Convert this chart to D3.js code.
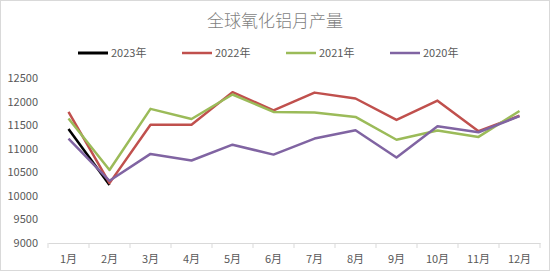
<!DOCTYPE html>
<html>
<head>
  <meta charset="utf-8">
  <script src="https://d3js.org/d3.v7.min.js"></script>
  <style>
    body { margin: 0; background: #fff; }
    text { font-family: "Noto Sans CJK SC", "Liberation Sans", sans-serif; }
  </style>
</head>
<body>
  <div id="chart"></div>
  <script>
    var months = ["1月","2月","3月","4月","5月","6月","7月","8月","9月","10月","11月","12月"];
    var yTicks = [9000, 9500, 10000, 10500, 11000, 11500, 12000, 12500];
    var v2023 = [11420, 10230];
    var v2022 = [11780, 10270, 11510, 11510, 12200, 11815, 12190, 12065, 11610, 12020, 11370, 11700];
    var v2021 = [11640, 10550, 11845, 11630, 12150, 11780, 11770, 11675, 11190, 11385, 11250, 11800];
    var v2020 = [11215, 10320, 10890, 10750, 11085, 10875, 11215, 11390, 10815, 11475, 11350, 11690];

    var series = [
      { name: "2023年", values: v2023, color: "#000000" },
      { name: "2022年", values: v2022, color: "#C0504D" },
      { name: "2021年", values: v2021, color: "#9BBB59" },
      { name: "2020年", values: v2020, color: "#8064A2" }
    ];

    var width = 550, height = 271;
    var svg = d3.select("#chart").append("svg")
        .attr("width", width)
        .attr("height", height);

    svg.append("rect")
        .attr("x", 0.5).attr("y", 0.5)
        .attr("width", width - 1).attr("height", height - 1)
        .attr("fill", "#fff").attr("stroke", "#d9d9d9");

    svg.append("text")
        .attr("x", 275).attr("y", 27)
        .attr("text-anchor", "middle")
        .attr("font-size", 17)
        .attr("font-weight", 300)
        .attr("fill", "#7f7f7f")
        .text("全球氧化铝月产量");

    var x = d3.scaleBand().domain(months).range([48, 540]);
    var y = d3.scaleLinear().domain([9000, 12500]).range([243, 78]);

    // x axis
    var xAxis = svg.append("g").attr("transform", "translate(0,243)")
        .call(d3.axisBottom(x).tickSize(0).tickPadding(12));
    xAxis.select(".domain").attr("stroke", "#d9d9d9");
    xAxis.selectAll("text").attr("font-size", 11).attr("fill", "#595959");
    xAxis.selectAll(".sep")
        .data(months.concat(["end"]))
        .enter().append("line")
        .attr("x1", function(d, i) { return 48 + i * x.bandwidth(); })
        .attr("x2", function(d, i) { return 48 + i * x.bandwidth(); })
        .attr("y1", 0).attr("y2", 5)
        .attr("stroke", "#d9d9d9");

    // y axis
    var yAxis = svg.append("g").attr("transform", "translate(40,0)")
        .call(d3.axisLeft(y).tickValues(yTicks).tickFormat(d3.format("d")).tickSize(0).tickPadding(2));
    yAxis.select(".domain").remove();
    yAxis.selectAll("text").attr("font-size", 11).attr("fill", "#595959");

    var line = d3.line()
        .x(function(d, i) { return x(months[i]) + x.bandwidth() / 2; })
        .y(function(d) { return y(d); });

    svg.selectAll(".series")
        .data(series)
        .enter().append("path")
        .attr("d", function(d) { return line(d.values); })
        .attr("fill", "none")
        .attr("stroke", function(d) { return d.color; })
        .attr("stroke-width", 2.5)
        .attr("stroke-linejoin", "round");

    // legend
    var lg = svg.selectAll(".legend")
        .data(series)
        .enter().append("g")
        .attr("transform", function(d, i) { return "translate(" + (78 + i * 104) + ",53)"; });
    lg.append("line")
        .attr("x1", 0).attr("x2", 30)
        .attr("stroke", function(d) { return d.color; })
        .attr("stroke-width", function(d, i) { return i === 0 ? 3 : 2.5; });
    lg.append("text")
        .attr("x", 33).attr("y", 4)
        .attr("font-size", 11)
        .attr("fill", "#595959")
        .text(function(d) { return d.name; });
  </script>
</body>
</html>
